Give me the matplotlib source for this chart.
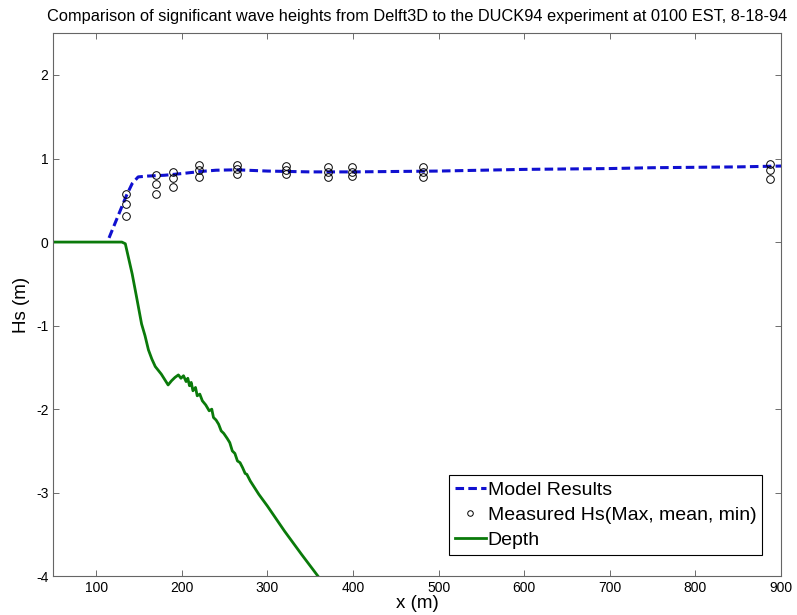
import matplotlib
matplotlib.use('Agg')
import numpy as np
import matplotlib.pyplot as plt

plt.rcParams['font.family'] = ['Liberation Sans', 'DejaVu Sans']
plt.rcParams['axes.unicode_minus'] = False

# model results (Delft3D), Hs along the cross-shore profile
model_x = [115, 125, 135, 142, 149, 160, 180, 200, 222, 240, 264, 300, 350, 400, 450, 500,
           550, 600, 650, 700, 750, 800, 850, 900]
model_hs = [0.05, 0.30, 0.55, 0.70, 0.78, 0.79, 0.80, 0.82, 0.845, 0.86, 0.865, 0.85, 0.84, 0.84,
            0.845, 0.85, 0.86, 0.87, 0.875, 0.88, 0.89, 0.895, 0.90, 0.91]

# measured Hs at the gauges (max, mean, min)
gauge_x = [135, 170, 190, 220, 265, 322, 371, 399, 482, 887]
hs_max = [0.58, 0.80, 0.84, 0.92, 0.92, 0.91, 0.90, 0.90, 0.90, 0.94]
hs_mean = [0.46, 0.69, 0.77, 0.86, 0.87, 0.86, 0.84, 0.84, 0.84, 0.86]
hs_min = [0.31, 0.57, 0.66, 0.78, 0.82, 0.82, 0.78, 0.79, 0.78, 0.76]

# bottom profile
depth_x = [50, 100, 130, 134, 138, 142, 147, 153, 157, 161, 165, 169, 176, 184, 188, 192, 196,
           199, 202, 205, 207, 209, 211, 213, 216, 218, 221, 224, 228, 232, 235, 237, 240,
           243, 246, 249, 253, 256, 259, 262, 265, 268, 271, 274, 276, 280, 290, 300, 310,
           320, 330, 340, 354, 365, 380]
depth = [0.0, 0.0, 0.0, -0.02, -0.20, -0.38, -0.65, -0.98, -1.12, -1.29, -1.40, -1.49, -1.58,
         -1.71, -1.66, -1.62, -1.59, -1.63, -1.60, -1.67, -1.63, -1.72, -1.68, -1.78, -1.74,
         -1.84, -1.82, -1.90, -1.95, -2.02, -2.00, -2.10, -2.13, -2.18, -2.26, -2.29, -2.35,
         -2.40, -2.50, -2.53, -2.62, -2.64, -2.70, -2.77, -2.78, -2.86, -3.02, -3.16, -3.31,
         -3.46, -3.60, -3.74, -3.93, -4.08, -4.30]

fig = plt.figure(figsize=(7.97, 6.15), dpi=100)
ax = fig.add_axes([0.067, 0.063, 0.913, 0.883])

ax.plot(model_x, model_hs, color='#1010d0', linestyle='--', linewidth=2.2,
        dashes=(2.8, 1.4), label='Model Results', zorder=3)
for vals in (hs_max, hs_mean, hs_min):
    ax.plot(gauge_x, vals, linestyle='none', marker='o', markersize=5.5,
            markerfacecolor='none', markeredgecolor='black', markeredgewidth=0.7, zorder=4)
# smaller proxy marker for the legend entry
ax.plot([], [], linestyle='none', marker='o', markersize=4, markerfacecolor='none',
        markeredgecolor='black', markeredgewidth=0.7, label='Measured Hs(Max, mean, min)')
ax.plot(depth_x, depth, color='#0a7a0a', linewidth=2.0, label='Depth', zorder=2)

ax.set_xlim(50, 900)
ax.set_ylim(-4, 2.5)
ax.set_xticks(np.arange(100, 901, 100))
ax.set_yticks(np.arange(-4, 3, 1))

ax.tick_params(direction='in', length=4, width=0.6, top=True, right=True,
               labelsize=10, color='#555555')
for sp in ax.spines.values():
    sp.set_color('#666666')
    sp.set_linewidth(0.8)

ax.set_title('Comparison of significant wave heights from Delft3D to the DUCK94 experiment at 0100 EST, 8-18-94',
             fontsize=11.8, pad=9)
ax.set_xlabel('x (m)', fontsize=13.5, labelpad=0)
ax.set_ylabel('Hs (m)', fontsize=13.5, labelpad=4)

leg = ax.legend(loc='lower right', bbox_to_anchor=(0.974, 0.04), borderaxespad=0,
                fontsize=14, handlelength=1.6, handletextpad=0.1, labelspacing=0.38,
                borderpad=0.3, fancybox=False, framealpha=1, edgecolor='black')
leg.get_frame().set_linewidth(0.8)

fig.savefig('out.png', dpi=100)
